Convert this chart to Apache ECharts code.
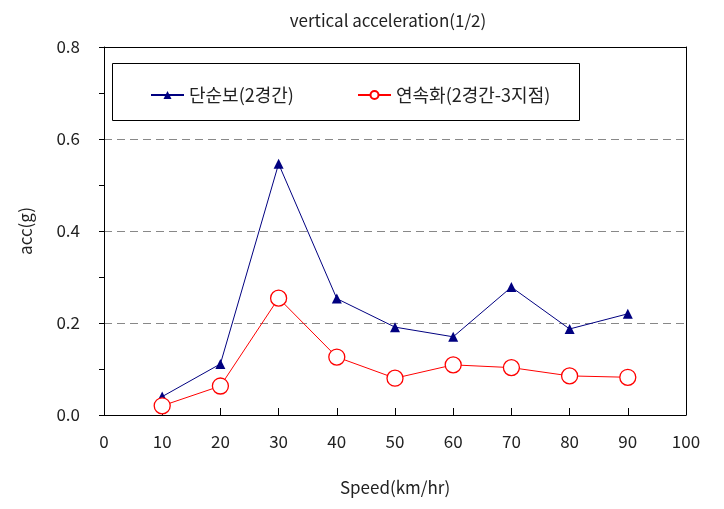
<!DOCTYPE html>
<html><head><meta charset="utf-8">
<script src="https://cdn.jsdelivr.net/npm/echarts@6/dist/echarts.min.js"></script>
<style>html,body{margin:0;padding:0;background:#fff}#c{width:724px;height:509px}</style>
</head><body><div id="c"></div>
<script>
const speeds = [10, 20, 30, 40, 50, 60, 70, 80, 90];
const simpleBeam = [0.04, 0.111, 0.546, 0.253, 0.191, 0.170, 0.278, 0.187, 0.220];
const continuous = [0.020, 0.063, 0.254, 0.126, 0.080, 0.109, 0.103, 0.085, 0.082];
const seriesNames = ['단순보(2경간)', '연속화(2경간-3지점)'];
const titleText = 'vertical acceleration(1/2)';
const xName = 'Speed(km/hr)';
const yName = 'acc(g)';

const font = '"Noto Sans CJK KR", "DejaVu Sans", sans-serif';
const chart = echarts.init(document.getElementById('c'));
const pair = (xs, ys) => xs.map((x, i) => [x, ys[i]]);
const legendCommon = {
  top: 81, itemWidth: 33, itemHeight: 10, z: 20,
  textStyle: { fontSize: 18, color: '#222', fontFamily: font }
};
chart.setOption({
  animation: false,
  textStyle: { fontFamily: font, color: '#222' },
  title: { text: titleText, left: 383, top: 7, textAlign: 'center',
    textStyle: { fontSize: 17, fontWeight: 'normal', color: '#222', fontFamily: font } },
  grid: { left: 104, right: 38, top: 47, bottom: 94, containLabel: false },
  graphic: [{ type: 'rect', shape: { x: 112.5, y: 63.5, width: 467, height: 57 },
    style: { fill: '#fff', stroke: '#000', lineWidth: 1 }, z: 10 }],
  legend: [
    Object.assign({ left: 145, data: [seriesNames[0]] }, legendCommon),
    Object.assign({ left: 352, data: [seriesNames[1]] }, legendCommon)
  ],
  xAxis: [{
    type: 'value', min: 0, max: 100, interval: 10,
    name: xName, nameLocation: 'middle', nameGap: 64,
    nameTextStyle: { fontSize: 17, color: '#222' },
    axisLine: { lineStyle: { color: '#000', width: 1 } },
    axisTick: { inside: true, length: 7, lineStyle: { color: '#000' } },
    axisLabel: { fontSize: 17, color: '#222', margin: 18 },
    splitLine: { show: false }
  }, {
    type: 'value', position: 'top', min: 0, max: 100,
    axisLine: { show: true, onZero: false, lineStyle: { color: '#000' } },
    axisTick: { show: false }, axisLabel: { show: false }, splitLine: { show: false }
  }],
  yAxis: [{
    type: 'value', min: 0, max: 0.8, interval: 0.2,
    name: yName, nameLocation: 'middle', nameGap: 70, nameRotate: 90,
    nameTextStyle: { fontSize: 17, color: '#222' },
    axisLine: { show: true, lineStyle: { color: '#000' } },
    axisTick: { show: true, length: 5, lineStyle: { color: '#000' } },
    minorTick: { show: true, splitNumber: 2, length: 5, lineStyle: { color: '#000' } },
    axisLabel: { fontSize: 17, color: '#222', margin: 24, formatter: v => v.toFixed(1) },
    splitLine: { show: true, lineStyle: { color: '#888', type: [8, 5], width: 1 } }
  }, {
    type: 'value', position: 'right', min: 0, max: 0.8,
    axisLine: { show: true, onZero: false, lineStyle: { color: '#000' } },
    axisTick: { show: false }, axisLabel: { show: false }, splitLine: { show: false }
  }],
  series: [{
    name: seriesNames[0], type: 'line', data: pair(speeds, simpleBeam),
    symbol: 'triangle', symbolSize: 10, showAllSymbol: true,
    itemStyle: { color: '#000080' },
    lineStyle: { color: '#000080', width: 1 }, z: 3
  }, {
    name: seriesNames[1], type: 'line', data: pair(speeds, continuous),
    symbol: 'circle', symbolSize: 16, showAllSymbol: true,
    itemStyle: { color: '#fff', borderColor: '#ff0000', borderWidth: 1.3 },
    lineStyle: { color: '#ff0000', width: 1 }, z: 4
  }]
});
</script></body></html>
